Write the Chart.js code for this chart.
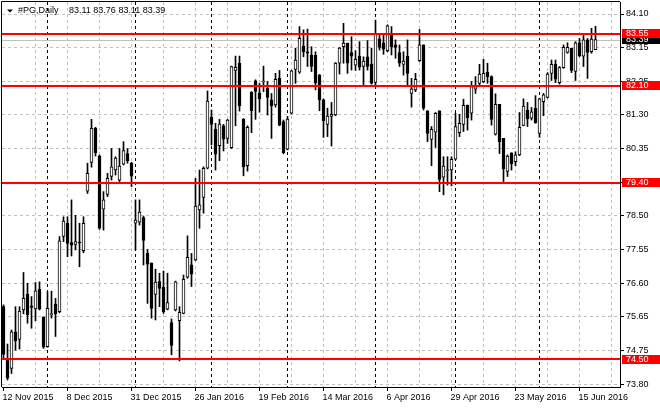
<!DOCTYPE html>
<html><head><meta charset="utf-8">
<style>html,body{margin:0;padding:0;background:#fff;overflow:hidden}canvas{display:block}</style>
<script src="https://cdn.jsdelivr.net/npm/chart.js@4.4.1/dist/chart.umd.min.js"></script>
</head><body>
<canvas id="c" width="660" height="410" style="width:660px;height:410px"></canvas>
<script>
const symbolTitle = '#PG,Daily';
const lastBarText = '83.11 83.76 83.11 83.39';

const openP = [75.96,74.52,74.24,75.26,75.05,75.87,76.31,75.98,75.90,76.45,
 75.66,74.85,75.74,76.03,75.82,77.91,78.28,77.74,77.69,77.75,
 77.52,79.17,79.97,80.92,80.15,78.67,79.08,79.58,79.76,79.48,
 79.92,80.22,79.95,78.28,78.31,78.44,77.44,77.17,76.30,76.66,
 76.50,75.89,75.52,75.87,75.57,75.77,76.78,77.12,77.26,78.65,
 79.00,79.81,81.23,80.90,80.44,80.99,80.64,80.38,82.53,82.73,
 81.18,79.88,81.92,82.24,81.91,82.21,82.03,81.71,81.57,82.31,
 81.11,80.34,81.34,82.56,82.48,83.21,83.05,82.96,82.96,82.40,
 81.71,81.03,81.25,81.29,82.73,83.19,83.29,83.03,82.68,82.93,
 82.64,82.91,82.71,82.20,83.41,83.30,83.08,83.55,83.24,83.03,
 82.70,82.93,81.89,81.99,82.80,83.24,81.41,80.61,80.81,81.41,
 79.56,79.74,79.76,80.06,80.80,81.03,81.56,81.34,82.01,82.17,
 82.22,82.48,82.36,80.76,81.59,80.64,79.72,80.24,79.99,80.18,
 81.00,81.43,81.20,81.48,80.78,81.66,81.78,82.45,82.70,82.19,
 82.61,83.03,83.15,82.50,83.30,82.93,83.38,83.05,83.11];
const highP = [76.01,74.92,75.31,75.96,75.96,76.91,76.61,76.24,76.63,76.65,
 75.68,76.38,76.39,76.19,77.91,78.46,78.46,78.93,78.50,78.28,
 78.46,79.95,81.17,80.95,80.18,79.16,79.67,80.36,80.13,80.36,
 80.55,80.36,79.97,78.93,78.93,78.48,77.55,77.18,77.00,76.89,
 76.95,76.89,75.62,76.67,75.96,76.84,77.93,77.44,79.53,79.76,
 79.85,81.96,81.43,81.06,81.17,81.03,81.17,82.65,82.93,82.93,
 81.19,80.99,81.94,82.27,82.17,82.65,82.22,81.89,82.45,82.53,
 81.15,81.25,82.54,83.15,83.75,83.66,83.68,83.19,83.05,82.42,
 81.74,81.48,81.64,82.75,83.17,83.84,83.29,83.47,83.08,83.33,
 82.91,83.36,83.15,83.93,83.56,83.56,83.80,83.75,83.38,83.24,
 83.05,83.38,82.31,82.45,83.67,83.24,81.41,80.97,81.36,81.41,
 80.13,80.13,80.13,81.34,81.31,81.73,81.57,82.22,82.36,82.70,
 82.84,82.73,82.38,81.88,81.59,80.64,80.18,80.24,80.27,81.36,
 81.74,81.64,81.50,81.83,81.76,81.89,82.47,82.82,82.82,82.64,
 83.24,83.30,83.15,83.33,83.42,83.52,83.42,83.70,83.76];
const lowP = [74.52,73.92,74.10,74.75,74.78,75.76,75.50,75.36,75.57,75.87,
 74.80,74.83,75.64,75.13,75.79,77.77,77.35,77.37,77.54,77.07,
 77.46,79.11,79.84,80.15,78.11,78.09,79.02,79.48,79.62,79.44,
 79.90,79.95,79.30,77.54,78.23,77.12,76.05,75.64,75.59,75.96,
 75.77,75.87,74.62,75.84,74.45,75.76,76.75,76.52,77.24,78.14,
 78.56,79.79,80.46,79.76,80.02,80.29,80.50,80.36,80.99,81.40,
 79.60,79.73,80.80,81.17,81.37,81.94,81.29,80.64,81.51,80.99,
 80.21,80.32,81.32,82.17,82.45,82.91,82.64,82.50,81.99,81.41,
 80.67,80.69,80.43,81.27,82.43,82.73,82.45,82.54,82.53,82.54,
 82.13,82.54,82.15,82.13,83.10,82.98,83.05,82.96,82.87,82.64,
 82.40,82.13,81.51,81.94,82.78,81.43,80.55,79.88,80.39,79.16,
 79.07,79.34,79.32,80.04,80.69,80.83,80.87,81.15,81.89,82.08,
 82.19,82.17,81.01,80.73,80.22,79.44,79.58,79.76,79.88,80.16,
 80.99,80.97,81.15,81.06,80.67,81.27,81.76,82.25,82.19,82.15,
 82.59,83.01,82.47,82.25,82.91,82.64,82.31,83.01,83.11];
const closeP = [74.63,73.97,75.26,75.01,75.84,76.19,75.74,75.94,76.40,75.89,
 74.83,75.91,75.76,75.76,77.79,78.34,77.72,77.67,77.77,77.73,
 78.28,79.67,80.92,80.24,78.14,78.93,79.53,79.85,80.09,79.87,
 80.30,80.02,79.59,78.37,78.59,77.80,77.14,75.91,76.64,76.47,
 75.82,76.07,74.88,76.65,75.80,76.72,77.33,76.86,78.76,78.79,
 79.81,81.68,81.03,80.20,81.04,80.62,81.15,82.64,82.62,81.55,
 79.85,80.95,81.41,81.95,81.74,82.23,81.78,81.54,82.28,81.01,
 80.24,81.18,82.52,82.82,83.42,83.05,83.01,82.64,82.19,81.71,
 81.13,81.26,81.31,82.73,83.15,83.29,82.73,82.93,82.84,82.62,
 82.79,82.64,82.17,83.55,83.17,83.12,83.77,83.19,83.17,82.73,
 82.79,82.45,82.02,82.28,83.24,81.48,80.78,80.89,81.34,79.50,
 79.87,79.75,80.06,80.97,81.06,81.56,81.22,82.08,82.08,82.43,
 82.45,82.36,81.17,81.59,80.55,79.79,80.15,79.93,80.18,80.95,
 81.54,81.18,81.38,81.08,81.74,81.85,82.43,82.70,82.29,82.61,
 83.17,83.17,82.53,83.30,82.94,83.38,83.03,83.40,83.39];

const xTickBars = [0,16,32,48,64,80,96,112,128,144];
const xTickLabels = ['12 Nov 2015','8 Dec 2015','31 Dec 2015','26 Jan 2016','19 Feb 2016','14 Mar 2016','6 Apr 2016','29 Apr 2016','23 May 2016','15 Jun 2016'];
const xGridBars = [0,8,16,24,32,40,48,56,64,72,80,88,96,104,112,120,128,136,144,152];
const separatorBars = [11,33,52,71,93,113,134];
const yTickLabels = ['73.80','74.75','75.65','76.60','77.55','78.50','79.40','80.35','81.30','82.25','83.15','84.10'];
const yTickLow = 73.80, yTickHigh = 84.10;
const levelPrices = [83.55, 82.10, 79.40, 74.50];
const levelLabels = ['83.55','82.10','79.40','74.50'];
const bidPrice = 83.39, bidLabel = '83.39';

const FONT = 'Liberation Sans';
Chart.defaults.color = '#000';
Chart.defaults.font.family = FONT;
Chart.defaults.font.size = 9;

const bodyData = openP.map((o, i) => ({x: i, y: [o, closeP[i]]}));
const wickData = lowP.map((l, i) => ({x: i, y: [l, highP[i]]}));

const overlay = {
  id: 'overlay',
  beforeDatasetsDraw(chart) {
    const {ctx, chartArea: a, scales: {x, y}} = chart;
    ctx.save();
    ctx.lineWidth = 1;
    ctx.strokeStyle = '#000';
    ctx.setLineDash([3, 3]);
    separatorBars.forEach(b => {
      const px = Math.floor(x.getPixelForValue(b)) + 0.5;
      ctx.beginPath(); ctx.moveTo(px, a.top); ctx.lineTo(px, a.bottom); ctx.stroke();
    });
    ctx.setLineDash([]);
    ctx.strokeStyle = '#c0c0c0';
    const by = Math.round(y.getPixelForValue(bidPrice)) + 0.5;
    ctx.beginPath(); ctx.moveTo(a.left, by); ctx.lineTo(a.right, by); ctx.stroke();
    ctx.restore();
  },
  afterDatasetsDraw(chart) {
    const {ctx, chartArea: a, scales: {y}} = chart;
    ctx.save();
    ctx.fillStyle = '#ff0000';
    levelPrices.forEach(p => {
      const py = Math.round(y.getPixelForValue(p));
      ctx.fillRect(a.left, py - 1, a.right - a.left, 2);
    });
    ctx.strokeStyle = '#000'; ctx.lineWidth = 1;
    ctx.beginPath();
    ctx.moveTo(a.left - 0.5, a.bottom); ctx.lineTo(a.left - 0.5, a.top - 0.5); ctx.lineTo(a.right, a.top - 0.5);
    ctx.stroke();
    ctx.restore();
  },
  afterDraw(chart) {
    const {ctx, chartArea: a, scales: {y}} = chart;
    ctx.save();
    ctx.font = '9px "' + FONT + '"';
    ctx.textBaseline = 'middle';
    ctx.textAlign = 'left';
    ctx.fillStyle = '#000';
    ctx.beginPath(); ctx.moveTo(7, 9.5); ctx.lineTo(13, 9.5); ctx.lineTo(10, 12.5); ctx.closePath(); ctx.fill();
    ctx.fillText(symbolTitle, 18, 11);
    ctx.fillText(lastBarText, 69, 11);
    const tag = (price, text, bg) => {
      const py = y.getPixelForValue(price);
      const top = Math.round(py - 4.5);
      ctx.fillStyle = bg;
      ctx.fillRect(a.right + 2, top, 40, 9);
      ctx.fillStyle = '#fff';
      ctx.fillText(text, a.right + 6, top + 5);
    };
    tag(bidPrice, bidLabel, '#000');
    levelPrices.forEach((p, i) => tag(p, levelLabels[i], '#ff0000'));
    ctx.restore();
  }
};

new Chart(document.getElementById('c'), {
  type: 'bar',
  data: {
    datasets: [
      {label: 'body', data: bodyData, grouped: false, barThickness: 3, borderWidth: 1, borderColor: '#000',
       borderSkipped: false, minBarLength: 1, order: 1,
       backgroundColor: openP.map((o, i) => closeP[i] >= o ? '#ffffff' : '#000000')},
      {label: 'wick', data: wickData, grouped: false, barThickness: 1, borderWidth: 0, order: 2,
       backgroundColor: '#000000'}
    ]
  },
  options: {
    responsive: false,
    animation: false,
    devicePixelRatio: 1,
    layout: {padding: {left: 2, top: 2, right: 0, bottom: 0}},
    plugins: {legend: {display: false}, tooltip: {enabled: false}, title: {display: false}},
    scales: {
      x: {
        type: 'linear', min: -0.375, max: 154.125, offset: false,
        afterBuildTicks: s => { s.ticks = xGridBars.map(v => ({value: v})); },
        afterFit: s => { s.height = 23; s.paddingLeft = 0; s.paddingRight = 0; s.paddingTop = 0; s.paddingBottom = 0; },
        grid: {offset: false, color: c => (c.tick && c.tick.value === 0) ? 'rgba(0,0,0,0)' : '#c0c0c0',
               lineWidth: 1, drawTicks: true, tickLength: 4, tickWidth: 1, tickBorderDash: [],
               tickColor: c => (c.tick && xTickBars.includes(c.tick.value)) ? '#000' : 'rgba(0,0,0,0)'},
        border: {display: true, color: '#000', width: 1, dash: [3, 3]},
        ticks: {autoSkip: false, maxRotation: 0, minRotation: 0, align: 'start', padding: 1, labelOffset: -1,
                color: '#000', font: {family: FONT, size: 9},
                callback: v => { const k = xTickBars.indexOf(v); return k >= 0 ? xTickLabels[k] : ''; }}
      },
      y: {
        position: 'right', min: 73.725, max: 84.434,
        afterBuildTicks: s => { s.ticks = yTickLabels.map((t, k) => ({value: yTickLow + k * (yTickHigh - yTickLow) / (yTickLabels.length - 1)})); },
        afterFit: s => { s.width = 40; s.paddingTop = 0; s.paddingBottom = 0; s.paddingLeft = 0; s.paddingRight = 0; },
        grid: {color: '#c0c0c0', lineWidth: 1, drawTicks: true, tickLength: 4, tickWidth: 1, tickColor: '#000', tickBorderDash: []},
        border: {display: true, color: '#000', width: 1, dash: [3, 3]},
        ticks: {padding: 2, color: '#000', font: {family: FONT, size: 9}, callback: (v, i) => yTickLabels[i]}
      }
    }
  },
  plugins: [overlay]
});
</script>
</body></html>
